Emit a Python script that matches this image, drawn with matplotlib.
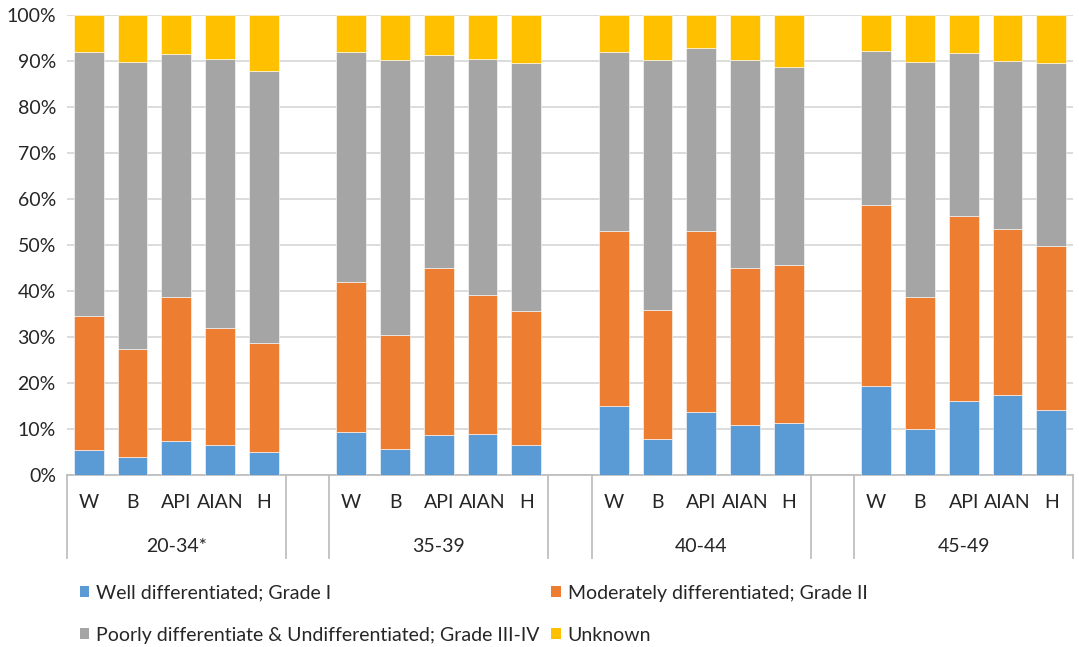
import numpy as np
import matplotlib.pyplot as plt
from matplotlib.patches import Patch
from matplotlib.lines import Line2D
from matplotlib.ticker import PercentFormatter

plt.rcParams['font.family'] = ['Lato', 'DejaVu Sans']

GROUPS = ["20-34*", "35-39", "40-44", "45-49"]
RACES = ["W", "B", "API", "AIAN", "H"]

# percentages per bar, order: group by group, race by race
WELL = [5.4, 4.0, 7.4, 6.5, 4.9,
        9.3, 5.7, 8.8, 8.9, 6.5,
        15.1, 7.9, 13.6, 10.9, 11.4,
        19.4, 10.1, 16.1, 17.4, 14.2]
MODERATE = [29.2, 23.5, 31.4, 25.5, 23.7,
            32.6, 24.7, 36.1, 30.2, 29.2,
            37.9, 28.0, 39.4, 34.1, 34.3,
            39.4, 28.5, 40.3, 36.0, 35.5]
POORLY = [57.4, 62.3, 52.7, 58.4, 59.3,
          50.1, 59.8, 46.4, 51.3, 53.8,
          39.0, 54.3, 39.8, 45.2, 43.1,
          33.3, 51.2, 35.3, 36.5, 39.8]
UNKNOWN = [8.0, 10.2, 8.5, 9.6, 12.1,
           8.0, 9.8, 8.7, 9.6, 10.5,
           8.0, 9.8, 7.2, 9.8, 11.2,
           7.9, 10.2, 8.3, 10.1, 10.5]

SERIES = [
    ("Well differentiated; Grade I", WELL, "#5B9BD5"),
    ("Moderately differentiated; Grade II", MODERATE, "#ED7D31"),
    ("Poorly differentiate & Undifferentiated; Grade III-IV", POORLY, "#A5A5A5"),
    ("Unknown", UNKNOWN, "#FFC000"),
]

FS = 14
W_PX, H_PX = 1079, 647
fig = plt.figure(figsize=(W_PX / 100, H_PX / 100), dpi=100)
ax = fig.add_axes([67 / W_PX, 1 - 475 / H_PX, (1073 - 67) / W_PX, (475 - 15) / H_PX])

# slot positions: 5 bars then a blank slot between groups
n_slots = len(GROUPS) * (len(RACES) + 1) - 1
xpos = []
for g in range(len(GROUPS)):
    for r in range(len(RACES)):
        xpos.append(g * (len(RACES) + 1) + r)
xpos = np.array(xpos)

# normalise to 100%
tot = np.array(WELL) + np.array(MODERATE) + np.array(POORLY) + np.array(UNKNOWN)
bottom = np.zeros(len(xpos))
handles = []
for label, vals, col in SERIES:
    v = np.array(vals) / tot
    ax.bar(xpos, v, 0.68, bottom=bottom, color=col, edgecolor='white',
           linewidth=0.4, zorder=3)
    bottom += v
    handles.append(Patch(facecolor=col, edgecolor='none', label=label))

ax.set_xlim(-0.5, n_slots - 0.5)
ax.set_ylim(0, 1)
ax.set_yticks(np.arange(0, 1.01, 0.1))
ax.yaxis.set_major_formatter(PercentFormatter(1.0, decimals=0))
ax.tick_params(axis='y', length=0, labelsize=FS, pad=8, colors='#262626')
ax.set_xticks([])
ax.grid(axis='y', color='#D9D9D9', linewidth=1.3, zorder=0)
for s in ['left', 'right', 'top']:
    ax.spines[s].set_visible(False)
ax.spines['bottom'].set_color('#BFBFBF')
ax.spines['bottom'].set_linewidth(1.3)

# two-level category labels with separator lines
trans = ax.get_xaxis_transform()
y_race = -(503 - 475) / 460
y_grp = -(546 - 475) / 460
y_line = -(558 - 475) / 460
for x, r in zip(xpos, RACES * len(GROUPS)):
    ax.text(x, y_race, r, transform=trans, ha='center', va='center',
            fontsize=FS, color='#262626')
for g, name in enumerate(GROUPS):
    c = g * (len(RACES) + 1) + (len(RACES) - 1) / 2
    ax.text(c, y_grp, name, transform=trans, ha='center', va='center',
            fontsize=FS, color='#262626')
line_x = [-0.5]
for g in range(len(GROUPS) - 1):
    end = g * (len(RACES) + 1) + len(RACES) - 0.5
    line_x += [end, end + 1]
line_x.append(n_slots - 0.5)
for lx in line_x:
    ax.add_line(Line2D([lx, lx], [0, y_line], transform=trans, color='#BFBFBF',
                       linewidth=1.3, clip_on=False))

order = [0, 2, 1, 3]
fig.legend([handles[i] for i in order], [handles[i].get_label() for i in order],
           ncol=2, loc='upper left', bbox_to_anchor=(62 / W_PX, 1 - 567 / H_PX),
           frameon=False, fontsize=FS, handlelength=0.5, handleheight=0.5,
           handletextpad=0.35, columnspacing=0.6, labelspacing=1.3,
           labelcolor='#262626')

fig.savefig('out.png', dpi=100, facecolor='white')
